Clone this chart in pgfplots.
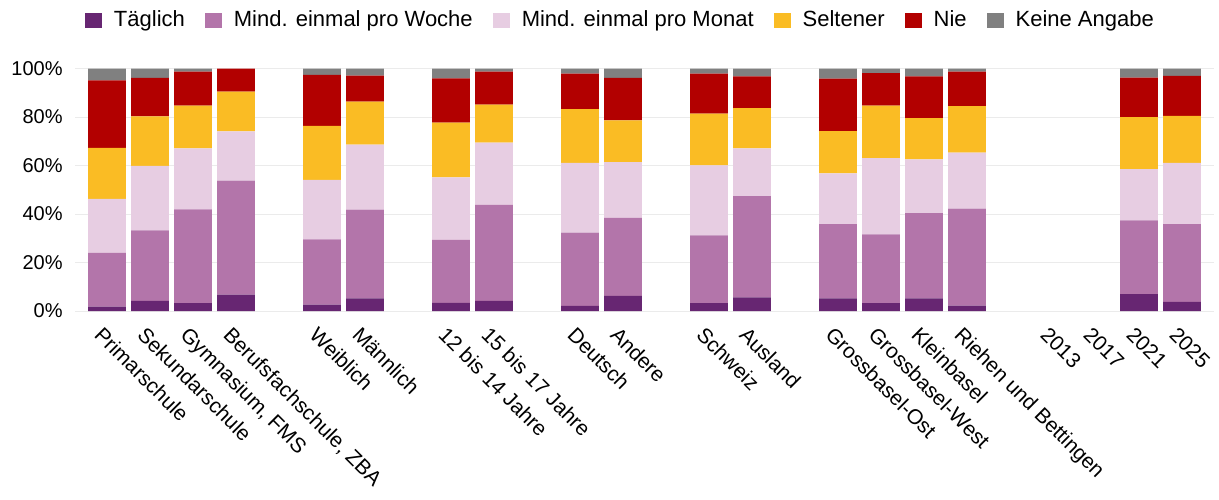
\documentclass[border=0pt]{standalone}
\usepackage{fontspec}
\setmainfont{Liberation Sans}
\usepackage{pgfplots}
\usepackage{pgfplotstable}
\pgfplotsset{compat=1.18}
\definecolor{cT}{RGB}{103,38,114}
\definecolor{cW}{RGB}{179,117,170}
\definecolor{cM}{RGB}{231,205,226}
\definecolor{cS}{RGB}{250,188,36}
\definecolor{cN}{RGB}{178,0,0}
\definecolor{cK}{RGB}{128,128,128}
\definecolor{gridc}{RGB}{235,235,235}
\pgfplotstableread{
x T W M S N K
0 1.8 22.2 22.3 21.0 27.8 4.9
1 4.2 29.1 26.6 20.4 15.9 3.8
2 3.3 38.6 25.2 17.6 14.1 1.2
3 6.8 47.0 20.3 16.4 9.5 0.0
5 2.6 27.0 24.5 22.3 21.0 2.6
6 5.2 36.6 26.8 17.8 10.7 2.9
8 3.4 25.9 25.8 22.6 18.3 4.0
9 4.2 39.6 25.7 15.6 13.7 1.2
11 2.1 30.2 28.8 22.2 14.6 2.1
12 6.2 32.2 23.0 17.2 17.6 3.8
14 3.3 27.9 28.9 21.3 16.5 2.1
15 5.6 41.8 19.7 16.6 13.1 3.2
17 5.2 30.6 21.0 17.4 21.7 4.1
18 3.3 28.3 31.5 21.6 13.4 1.9
19 5.2 35.2 22.2 17.0 17.2 3.2
20 2.2 40.0 23.1 19.2 14.3 1.2
24 7.0 30.4 21.1 21.5 16.3 3.7
25 3.8 32.0 25.3 19.4 16.5 3.0
}\datatable
\begin{document}
\begin{tikzpicture}
\useasboundingbox (-53.5pt,-94pt) rectangle (556pt,155.5pt);
\begin{axis}[
  anchor=origin, at={(0,0)},
  x=21.5pt, y=1.212pt,
  xmin=-0.744, xmax=25.744, ymin=0, ymax=100,
  clip=false,
  axis line style={draw=none},
  major tick length=0pt,
  ybar stacked, bar width=0.877,
  ymajorgrids, grid style={gridc, line width=0.5pt},
  ytick={0,20,40,60,80,100},
  yticklabels={0\%,20\%,40\%,60\%,80\%,100\%},
  yticklabel style={anchor=east, inner sep=0pt, xshift=-6pt, font=\fontsize{10}{12}\selectfont},
  xtick={0,1,2,3,5,6,8,9,11,12,14,15,17,18,19,20,22,23,24,25},
  xticklabels={Primarschule,Sekundarschule,{Gymnasium, FMS},{Berufsfachschule, ZBA},Weiblich,Männlich,12 bis 14 Jahre,15 bis 17 Jahre,Deutsch,Andere,Schweiz,Ausland,Grossbasel-Ost,Grossbasel-West,Kleinbasel,Riehen und Bettingen,2013,2017,2021,2025},
  xticklabel style={xshift=-7pt, yshift=-12.5pt, rotate=-45, anchor=base west, inner sep=0pt, font=\fontsize{10.5}{12}\selectfont},
  legend columns=6,
  legend style={at={(axis cs:-0.512,120.0)}, anchor=west, draw=none, fill=none, inner sep=0pt, outer sep=0pt,
    font=\fontsize{11}{13}\selectfont,
    /tikz/every even column/.append style={column sep=8pt}},
  legend image code/.code={\fill[#1] (0pt,-3.75pt) rectangle (8.5pt,3.75pt); \path (12.5pt,0pt);},
  every axis plot/.append style={draw=none},
]
\addplot[fill=cT] table[x=x,y=T]{\datatable}; \addlegendentry{Täglich}
\addplot[fill=cW] table[x=x,y=W]{\datatable}; \addlegendentry{Mind. einmal pro Woche}
\addplot[fill=cM] table[x=x,y=M]{\datatable}; \addlegendentry{Mind. einmal pro Monat}
\addplot[fill=cS] table[x=x,y=S]{\datatable}; \addlegendentry{Seltener}
\addplot[fill=cN] table[x=x,y=N]{\datatable}; \addlegendentry{Nie}
\addplot[fill=cK] table[x=x,y=K]{\datatable}; \addlegendentry{Keine Angabe}
\end{axis}
\end{tikzpicture}
\end{document}
